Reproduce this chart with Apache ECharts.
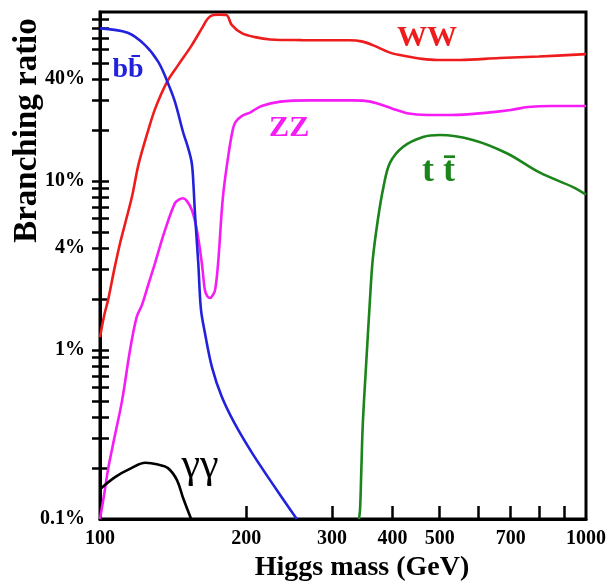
<!DOCTYPE html>
<html>
<head>
<meta charset="utf-8">
<script src="https://cdn.jsdelivr.net/npm/echarts@6/dist/echarts.min.js"></script>
<style>
html,body{margin:0;padding:0;background:#fff;}
#chart{width:608px;height:586px;}
</style>
</head>
<body>
<div id="chart"></div>
<script>
// ---- data (Higgs mass in GeV, branching ratio in %) ----
const wwMass = [100, 102, 104, 107, 110, 113, 116.5, 120, 125.7, 130, 137.4, 144.8, 154.4, 162, 166.7, 171, 176, 182, 186.6, 195.8, 208.5, 224, 260, 326, 345, 364, 395, 428, 460, 494, 550, 664, 800, 1000];
const wwBR   = [1.19, 1.6, 2.0, 3.0, 4.3, 5.8, 8.2, 12.5, 20, 27, 38.6, 48.5, 63.5, 80, 91.5, 96, 96.5, 96, 84, 75, 71, 68.8, 68.2, 68, 67, 63.7, 57.5, 54.7, 52.8, 52, 52, 53.4, 54.5, 56.3];

const zzMass = [100, 102, 104, 107, 111, 115.3, 119, 122, 125.5, 129.8, 136, 142.6, 145.3, 148, 151, 154.6, 158.3, 162, 164.4, 166.5, 168.4, 170.5, 172.5, 175, 179, 183.5, 187.5, 190, 196, 204, 215, 235, 270, 330, 360, 400, 428, 470, 530, 620, 700, 760, 850, 1000];
const zzBR   = [0.1, 0.14, 0.2, 0.3, 0.5, 1.0, 1.57, 1.85, 2.4, 3.27, 5.1, 7.4, 7.75, 7.9, 7.6, 6.7, 5.1, 3.27, 2.26, 2.07, 2.03, 2.1, 2.26, 3.27, 8.0, 13.9, 20, 22.3, 24.3, 25.5, 27.8, 29.5, 30, 30, 29.5, 26.8, 25.2, 24.6, 24.6, 25.3, 26.3, 27.4, 27.8, 27.8];

const bbMass = [100, 114, 123.8, 131.8, 137.6, 142.6, 148.2, 152, 154.5, 155.7, 156.8, 159.3, 161.3, 164.4, 170, 178, 189, 205.5, 226, 254];
const bbBR   = [80, 75.3, 63.7, 50.7, 38.7, 29.5, 19.5, 15.5, 12.7, 9.5, 6.45, 3.26, 1.75, 1.26, 0.79, 0.53, 0.37, 0.246, 0.163, 0.1];

const ttMass = [341, 342.8, 345, 347.4, 353.6, 359, 364, 373, 383, 395, 420, 462, 500, 585, 687, 804, 940, 1000];
const ttBR   = [0.1, 0.113, 0.2, 0.37, 0.91, 1.9, 3.4, 5.9, 9.2, 12.8, 15.9, 18.2, 18.7, 17.5, 14.6, 11.2, 9.2, 8.3];

const gamMass = [100, 107.4, 116, 124, 131.6, 138, 144, 148, 154];
const gamBR   = [0.15, 0.177, 0.2, 0.215, 0.21, 0.2, 0.17, 0.135, 0.1];

const xTickValues  = [200, 300, 400, 500, 600, 700, 800, 900];
const xLabelValues = [100, 200, 300, 400, 500, 700, 1000];
const yTickValues  = [0.2, 0.3, 0.4, 0.5, 0.6, 0.7, 0.8, 0.9, 1, 2, 3, 4, 5, 6, 7, 8, 9, 10, 20, 30, 40, 50, 60, 70, 80, 90];
const yLabelValues = [0.1, 1, 4, 10, 40];

// curve name labels: text, mass, BR
const curveLabelText = ['WW', 'ZZ', 'bb\u0304', 't t\u0304', '\u03b3\u03b3'];
const curveLabelMass = [471, 245, 114.2, 497, 160.6];
const curveLabelBR   = [70.2, 20.5, 45.3, 11.4, 0.206];

// ---- styling ----
const SERIF = "'Liberation Serif', 'Times New Roman', serif";
const cWW = '#ee1c1c', cZZ = '#f51cf5', cBB = '#2222dd', cTT = '#1b841b', cGG = '#000000';

function zip(a, b) { return a.map((v, i) => [v, b[i]]); }

function labelPoint(idx, color, size, weight) {
  return {
    symbol: 'circle', symbolSize: 0,
    silent: true,
    data: [{ coord: [curveLabelMass[idx], curveLabelBR[idx]], value: curveLabelText[idx] }],
    label: {
      show: true, position: 'inside', formatter: curveLabelText[idx],
      color: color, fontFamily: SERIF, fontSize: size, fontWeight: weight
    }
  };
}

function lineSeries(name, mass, br, color, lblIdx, lblSize, lblWeight) {
  return {
    name: name, type: 'line', data: zip(mass, br),
    showSymbol: false, smooth: 0.35, clip: true,
    lineStyle: { color: color, width: 2.6 },
    itemStyle: { color: color },
    markPoint: labelPoint(lblIdx, color, lblSize, lblWeight),
    z: 3
  };
}

const chart = echarts.init(document.getElementById('chart'), null, { renderer: 'canvas' });
chart.setOption({
  animation: false,
  backgroundColor: '#ffffff',
  grid: { left: 100, right: 22, top: 12, bottom: 67, containLabel: false, outerBoundsMode: 'none', show: true, borderColor: '#000', borderWidth: 3, backgroundColor: 'transparent' },
  xAxis: {
    type: 'log', logBase: 10, min: 100, max: 1000,
    name: 'Higgs mass (GeV)', nameLocation: 'middle', nameGap: 34,
    nameTextStyle: { fontFamily: SERIF, fontSize: 28, fontWeight: 'bold', color: '#000', padding: [0, 0, 0, 38] },
    axisLine: { show: true, lineStyle: { color: '#000', width: 3 } },
    axisTick: { show: true, inside: true, length: 13, customValues: xTickValues, lineStyle: { color: '#000', width: 2.5 } },
    minorTick: { show: false },
    axisLabel: { show: true, customValues: xLabelValues, margin: 10, fontFamily: SERIF, fontSize: 20, fontWeight: 'bold', color: '#000', formatter: v => String(Math.round(v)) },
    splitLine: { show: false }
  },
  yAxis: [{
    type: 'log', logBase: 10, min: 0.1, max: 100,
    name: 'Branching ratio', nameLocation: 'middle', nameGap: 56, nameMoveOverlap: false,
    nameTextStyle: { fontFamily: SERIF, fontSize: 33, fontWeight: 'bold', color: '#000', padding: [0, 0, 0, 270] },
    axisLine: { show: true, lineStyle: { color: '#000', width: 3 } },
    axisTick: { show: true, inside: false, length: 8, customValues: yTickValues, lineStyle: { color: '#000', width: 2.5 } },
    axisLabel: { show: true, customValues: yLabelValues, margin: 15, fontFamily: SERIF, fontSize: 20, fontWeight: 'bold', color: '#000', formatter: v => (Math.round(v * 10) / 10) + '%' },
    splitLine: { show: false }
  }, {
    type: 'log', logBase: 10, min: 0.1, max: 100, position: 'left',
    axisLine: { show: false },
    axisTick: { show: true, inside: true, length: 9, customValues: yTickValues, lineStyle: { color: '#000', width: 2.5 } },
    axisLabel: { show: false },
    splitLine: { show: false }
  }],
  series: [
    lineSeries('WW', wwMass, wwBR, cWW, 0, 30, 'bold'),
    lineSeries('ZZ', zzMass, zzBR, cZZ, 1, 30, 'bold'),
    lineSeries('bb', bbMass, bbBR, cBB, 2, 28, 'bold'),
    lineSeries('tt', ttMass, ttBR, cTT, 3, 36, 'bold'),
    lineSeries('gammagamma', gamMass, gamBR, cGG, 4, 42, 'normal')
  ]
});
</script>
</body>
</html>
